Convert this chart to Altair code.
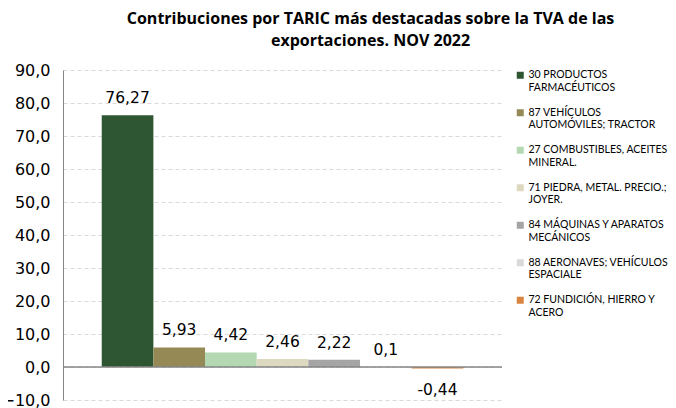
import altair as alt
import pandas as pd

categories = [
    "30 PRODUCTOS|FARMACÉUTICOS",
    "87 VEHÍCULOS|AUTOMÓVILES; TRACTOR",
    "27 COMBUSTIBLES, ACEITES|MINERAL.",
    "71 PIEDRA, METAL. PRECIO.;|JOYER.",
    "84 MÁQUINAS Y APARATOS|MECÁNICOS",
    "88 AERONAVES; VEHÍCULOS|ESPACIALE",
    "72 FUNDICIÓN, HIERRO Y|ACERO",
]
values = [76.27, 5.93, 4.42, 2.46, 2.22, 0.1, -0.44]
labels = ["76,27", "5,93", "4,42", "2,46", "2,22", "0,1", "-0,44"]
colors = ["#2E5632", "#958A55", "#B3D8B2", "#DDD8C0", "#A5A5A5", "#D9D9D9", "#D9843E"]
y_ticks = [-10, 0, 10, 20, 30, 40, 50, 60, 70, 80, 90]

df = pd.DataFrame({"cat": categories, "value": values, "label": labels})
zero_df = pd.DataFrame({"value": [0]})

FONT = "DejaVu Sans"

x = alt.X("cat:N", sort=categories, axis=None,
          scale=alt.Scale(paddingInner=0, paddingOuter=0.75))
y = alt.Y("value:Q", scale=alt.Scale(domain=[-10, 90], nice=False, zero=False),
          axis=alt.Axis(values=y_ticks, title=None,
                        labelExpr="replace(format(datum.value, '.1f'), '.', ',')",
                        labelFont=FONT, labelFontSize=16, labelColor="#000000",
                        labelPadding=13, labelOverlap=False, ticks=False,
                        domain=True, domainColor="#868686", domainWidth=1,
                        grid=True, gridDash=[4, 3], gridColor="#D9D9D9"))

bars = alt.Chart(df).mark_bar().encode(
    x=x,
    y=y,
    color=alt.Color("cat:N", sort=categories,
                    scale=alt.Scale(domain=categories, range=colors),
                    legend=alt.Legend(title=None, orient="right", offset=13,
                                      symbolType="square", symbolSize=49,
                                      symbolStrokeWidth=0,
                                      labelFont="Lato", labelFontSize=10.5,
                                      labelColor="#000000",
                                      labelExpr="split(datum.label, '|')",
                                      labelLimit=220, rowPadding=13.5,
                                      labelOffset=3)),
)

zero = alt.Chart(zero_df).mark_rule(color="#868686", strokeWidth=1.5).encode(y=y)

pos = alt.Chart(df).transform_filter("datum.value >= 0").mark_text(
    baseline="bottom", dy=-9, font=FONT, fontSize=15.5, color="#000000"
).encode(x=x, y=y, text="label:N")

neg = alt.Chart(df).transform_filter("datum.value < 0").mark_text(
    baseline="top", dy=15, font=FONT, fontSize=15.5, color="#000000"
).encode(x=x, y=y, text="label:N")

chart = alt.layer(bars, zero, pos, neg).properties(
    width=439, height=330,
    title=alt.TitleParams(
        ["Contribuciones por TARIC más destacadas sobre la TVA de las",
         "exportaciones. NOV 2022"],
        font="Open Sans", fontSize=16, fontWeight="bold", color="#000000",
        anchor="middle", dx=88, offset=13, lineHeight=22),
    autosize=alt.AutoSizeParams(type="none"),
    padding={"left": 55, "top": 62, "right": 166, "bottom": 8},
).configure_view(stroke=None)

chart.save("out.html", embed_options={"renderer": "svg", "actions": False})
